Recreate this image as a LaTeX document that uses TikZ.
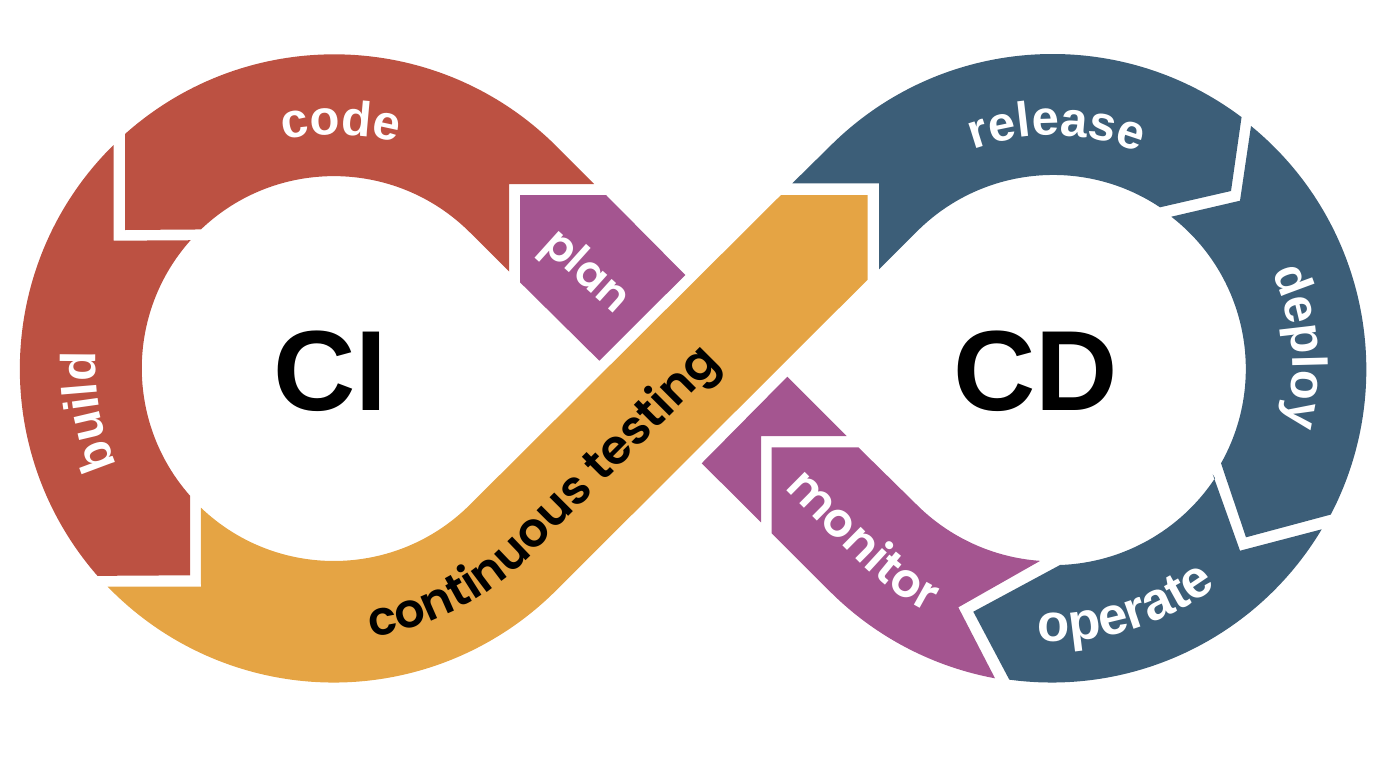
\documentclass[tikz,border=0pt]{standalone}
\usepackage{fontspec}
\setmainfont{Liberation Sans}
\newfontfamily\heavyfont[UprightFont=* SemiBold]{Poppins}
\usetikzlibrary{decorations.text}

\definecolor{cired}{HTML}{BC5142}
\definecolor{cdblue}{HTML}{3C5E78}
\definecolor{stagepurple}{HTML}{A45590}
\definecolor{testorange}{HTML}{E5A444}

\newcommand{\ringfont}{\fontsize{49}{49}\selectfont\bfseries\color{white}}
\newcommand{\wideringfont}{\fontsize{53}{53}\selectfont\bfseries\color{white}}
\newcommand{\geofont}{\fontsize{47}{47}\selectfont\heavyfont\color{white}}
\newcommand{\testfont}{\fontsize{47.5}{47.5}\selectfont\heavyfont\color{black}}

\tikzset{
  ringlabel/.style={decorate,decoration={text along path,text align=center,text={|\ringfont|#1}}},
  wideringlabel/.style={decorate,decoration={text along path,text align=center,text={|\wideringfont|#1}}},
  geolabel/.style={decorate,decoration={text along path,text={|\geofont|#1}}},
  testlabel/.style={decorate,decoration={text along path,text={|\testfont|#1}}},
  bigname/.style={font=\fontsize{114}{114}\selectfont\bfseries,text=black,inner sep=0pt}
}

\begin{document}
\begin{tikzpicture}[x=1pt,y=-1pt]

\def \Rout {314.5}
\def \Rin {192.5}
\def \Rlow {194}

\useasboundingbox (0,0) rectangle (1388,763);

% left ring
\fill[cired] (125,134) arc[start angle=228.3,end angle=315,radius=\Rout] -- (594,184) -- (509,184) -- (509,271.5)
    -- (470,232.5) arc[start angle=315,end angle=226.3,radius=\Rin] -- (125,230) -- cycle;
\fill[cired] (113.5,145) arc[start angle=225.4,end angle=138.85,radius=\Rout] -- (190,575.3) -- (190,495.7)
    arc[start angle=138.55,end angle=221.7,radius=\Rin] -- (113.5,240.7) -- cycle;
\fill[stagepurple] (520,195) -- (606,195) -- (685.3,275) -- (599.3,360.7) -- (520,282.3) -- cycle;

% the band that crosses over
\fill[testorange] (107.7,586.7) arc[start angle=135.95,end angle=45,radius=\Rout] -- (867.7,279.6) -- (867.7,195)
    -- (781,195) -- (470,504.6) arc[start angle=45,end angle=133.7,radius=\Rin] -- (201,586.7) -- cycle;

% right ring
\fill[cdblue] (792.3,183.3) -- (830.1,146.1) arc[start angle=225,end angle=306.95,radius=\Rout] -- (1231,191)
    -- (1160,207.3) arc[start angle=303.7,end angle=225,radius=\Rin] -- (879,269.3) -- (879,183.3) -- cycle;
\fill[cdblue] (1251,126) arc[start angle=-50.7,end angle=27.5,radius=\Rout] -- (1246,537.3)
    -- (1221,463.3) arc[start angle=29.4,end angle=-52.2,radius=\Rin] -- (1240,200.7) -- cycle;
\fill[cdblue] (1321.7,529.3) arc[start angle=30.85,end angle=97.75,radius=\Rout] -- (973.3,611.7) -- (1060,565)
    arc[start angle=88,end angle=33.5,radius=\Rlow] -- (1212.7,474.3) -- (1240,550.7) -- cycle;

\fill[stagepurple] (787.3,376.7) -- (846.7,436) -- (761,436) -- (761,522.3) -- (701.7,463.3) -- cycle;
\fill[stagepurple] (771.7,447.3) -- (858.3,447.3) -- (916.5,504.5) arc[start angle=135,end angle=94,radius=\Rlow]
    -- (958.3,607.3) -- (995,678.3) arc[start angle=100.5,end angle=135,radius=\Rout] -- (771.7,533.3) -- cycle;

% names
\node[bigname] (ciname) at (330,371) {CI};
\node[bigname] (cdname) at (1036,371) {CD};

% labels follow the rings
\path[ringlabel=code] (222.4,162.8) arc[start angle=241.5,end angle=301.5,radius=234];
\path[ringlabel=release] (936,166.7) arc[start angle=240,end angle=302,radius=233];
\path[ringlabel=deploy] (1249.1,230.8) arc[start angle=-35,end angle=25,radius=240];
\path[ringlabel=build] (139,505) arc[start angle=145,end angle=195,radius=238];
\path[wideringlabel=operate] (1009.8,638.1) arc[start angle=99,end angle=47,radius=273];
\path[geolabel=monitor] (784,488) -- (858.8,562.2) arc[start angle=135,end angle=78,radius=274];
\path[testlabel={continuous testing}] (371.7,636.9) arc[start angle=82,end angle=45,radius=271] -- (800,285);

\node[font=\fontsize{44}{44}\selectfont\heavyfont,text=white,rotate=-42,inner sep=0pt] (planlabel) at (585,273) {plan};

\end{tikzpicture}
\end{document}
